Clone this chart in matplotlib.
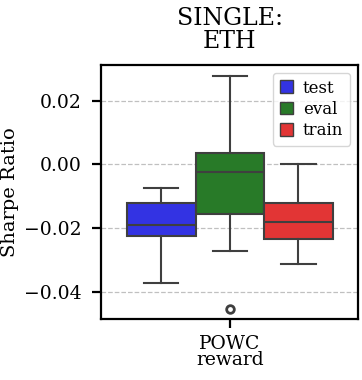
import matplotlib
matplotlib.use("Agg")
import matplotlib.pyplot as plt
from matplotlib.patches import Patch

plt.rcParams['font.family'] = ['DejaVu Serif']

category = "POWC\nreward"
series = ["test", "eval", "train"]
colors = ["#3333e3", "#287a28", "#e23535"]
# five-number summaries
whislo = [-0.0370, -0.0272, -0.0311]
q1 = [-0.0224, -0.0155, -0.0233]
med = [-0.0190, -0.0025, -0.0180]
q3 = [-0.0122, 0.0036, -0.0122]
whishi = [-0.0074, 0.0276, 0.0003]
fliers = [[], [-0.0451], []]

stats = []
for i, s in enumerate(series):
    stats.append(dict(label=s, whislo=whislo[i], q1=q1[i], med=med[i],
                      q3=q3[i], whishi=whishi[i], fliers=fliers[i]))

fig, ax = plt.subplots(figsize=(3.62, 3.8), dpi=100)
n = len(series)
w = 0.8 / n
positions = [-0.4 + w * (i + 0.5) for i in range(n)]
edge = "#3f3f3f"
lw = 1.5
bp = ax.bxp(stats, positions=positions, widths=w, patch_artist=True,
            showfliers=True, manage_ticks=False,
            boxprops=dict(edgecolor=edge, linewidth=lw),
            medianprops=dict(color=edge, linewidth=lw),
            whiskerprops=dict(color=edge, linewidth=lw),
            capprops=dict(color=edge, linewidth=lw),
            flierprops=dict(marker='o', markersize=5.5, markerfacecolor='white',
                            markeredgecolor=edge, markeredgewidth=2))
for patch, c in zip(bp['boxes'], colors):
    patch.set_facecolor(c)
for cap in bp['caps']:
    x0, x1 = cap.get_xdata()
    xm = (x0 + x1) / 2
    cap.set_xdata([xm - w / 4, xm + w / 4])

ax.set_xlim(-0.5, 0.5)
ax.set_ylim(-0.0484, 0.03125)
ax.set_xticks([0])
ax.set_xticklabels([category], fontsize=13.5, linespacing=0.85)
ax.set_yticks([-0.04, -0.02, 0.0, 0.02])
ax.set_yticklabels(["\u22120.04", "\u22120.02", "0.00", "0.02"], fontsize=13.5)
ax.set_ylabel("Sharpe Ratio", fontsize=14, labelpad=4)
ax.set_title("SINGLE:\nETH", fontsize=17, linespacing=1.0, pad=12)
ax.yaxis.grid(True, linestyle='--', color='#c0c0c0', linewidth=0.9)
ax.set_axisbelow(True)
for sp in ax.spines.values():
    sp.set_linewidth(1.6)
ax.tick_params(axis='both', length=6.5, width=1.6)
ax.tick_params(axis='y', pad=7.5)
ax.tick_params(axis='x', pad=5)

handles = [Patch(facecolor=c, edgecolor=edge, label=s) for s, c in zip(series, colors)]
ax.legend(handles=handles, loc='upper right', fontsize=12, handlelength=0.8,
          handleheight=0.8, handletextpad=0.6, borderpad=0.4, labelspacing=0.25,
          framealpha=0.8, edgecolor='#cccccc', fancybox=True)

fig.subplots_adjust(left=0.28, right=0.99, top=0.83, bottom=0.16)
fig.savefig("out.png", dpi=100)
